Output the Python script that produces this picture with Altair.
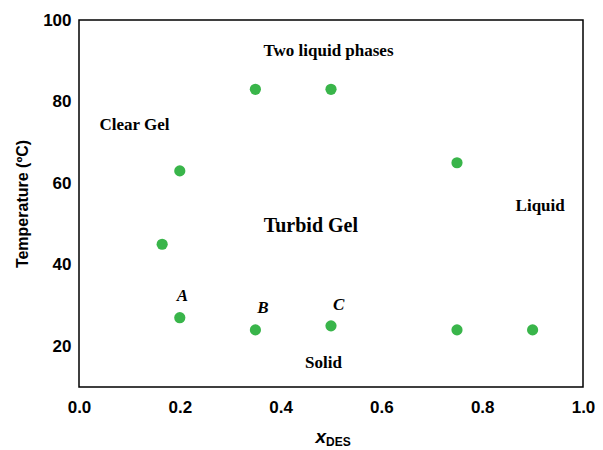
import altair as alt
import pandas as pd

# data points
xs = [0.2, 0.165, 0.2, 0.35, 0.5, 0.75, 0.35, 0.5, 0.75, 0.9]
temps = [63, 45, 27, 83, 83, 65, 24, 25, 24, 24]

# region labels
reg_text = ["Two liquid phases", "Clear Gel", "Liquid", "Solid"]
reg_x = [0.495, 0.11, 0.915, 0.485]
reg_y = [92.4, 74.2, 54.4, 15.8]

big_text = ["Turbid Gel"]
big_x = [0.46]
big_y = [49.4]

pt_text = ["A", "B", "C"]
pt_x = [0.205, 0.365, 0.515]
pt_y = [32.3, 29.3, 30.0]

pts = pd.DataFrame({"x": xs, "t": temps})
reg = pd.DataFrame({"label": reg_text, "x": reg_x, "t": reg_y})
big = pd.DataFrame({"label": big_text, "x": big_x, "t": big_y})
ptl = pd.DataFrame({"label": pt_text, "x": pt_x, "t": pt_y})

xscale = alt.Scale(domain=[0, 1.0], nice=False)
yscale = alt.Scale(domain=[10, 100], nice=False)

xaxis = alt.Axis(values=[0, 0.2, 0.4, 0.6, 0.8, 1.0], format=".1f", ticks=False,
                 domain=False, grid=False, labelPadding=12, labelFontSize=17,
                 labelFontWeight="bold", labelFont="Liberation Sans", labelColor="black",
                 labelFlush=False, title=None)
yaxis = alt.Axis(values=[20, 40, 60, 80, 100], ticks=False, domain=False, grid=False,
                 labelPadding=8, labelFontSize=17, labelFontWeight="bold",
                 labelFont="Liberation Sans", labelColor="black", labelFlush=False,
                 title="Temperature (ºC)", titleFontSize=16, titleFontWeight="bold",
                 titleFont="Liberation Sans", titleColor="black", titlePadding=12)

points = alt.Chart(pts).mark_circle(size=125, color="#39b54a", opacity=1).encode(
    x=alt.X("x:Q", scale=xscale, axis=xaxis),
    y=alt.Y("t:Q", scale=yscale, axis=yaxis),
)

regions = alt.Chart(reg).mark_text(font="Liberation Serif", fontWeight="bold",
                                   fontSize=17, color="black").encode(
    x=alt.X("x:Q", scale=xscale), y=alt.Y("t:Q", scale=yscale), text="label:N")

bigl = alt.Chart(big).mark_text(font="Liberation Serif", fontWeight="bold",
                                fontSize=20, color="black").encode(
    x=alt.X("x:Q", scale=xscale), y=alt.Y("t:Q", scale=yscale), text="label:N")

ptlab = alt.Chart(ptl).mark_text(font="Liberation Serif", fontWeight="bold",
                                 fontStyle="italic", fontSize=17, color="black").encode(
    x=alt.X("x:Q", scale=xscale), y=alt.Y("t:Q", scale=yscale), text="label:N")

xt1 = alt.Chart(pd.DataFrame({"s": ["x"]})).mark_text(
    font="Liberation Sans", fontWeight="bold", fontStyle="italic", fontSize=19,
    color="black", align="right").encode(
    x=alt.value(247), y=alt.value(417), text="s:N")
xt2 = alt.Chart(pd.DataFrame({"s": ["DES"]})).mark_text(
    font="Liberation Sans", fontWeight="bold", fontSize=12,
    color="black", align="left").encode(
    x=alt.value(247), y=alt.value(422), text="s:N")

chart = alt.layer(points, regions, bigl, ptlab, xt1, xt2).properties(
    width=504, height=367,
    background="white",
    autosize=alt.AutoSizeParams(type="none"),
    padding={"left": 71, "top": 12, "right": 12, "bottom": 63},
).configure_view(stroke="black", strokeWidth=1.5)

chart.save("out.html", embed_options={"renderer": "svg", "actions": False})
